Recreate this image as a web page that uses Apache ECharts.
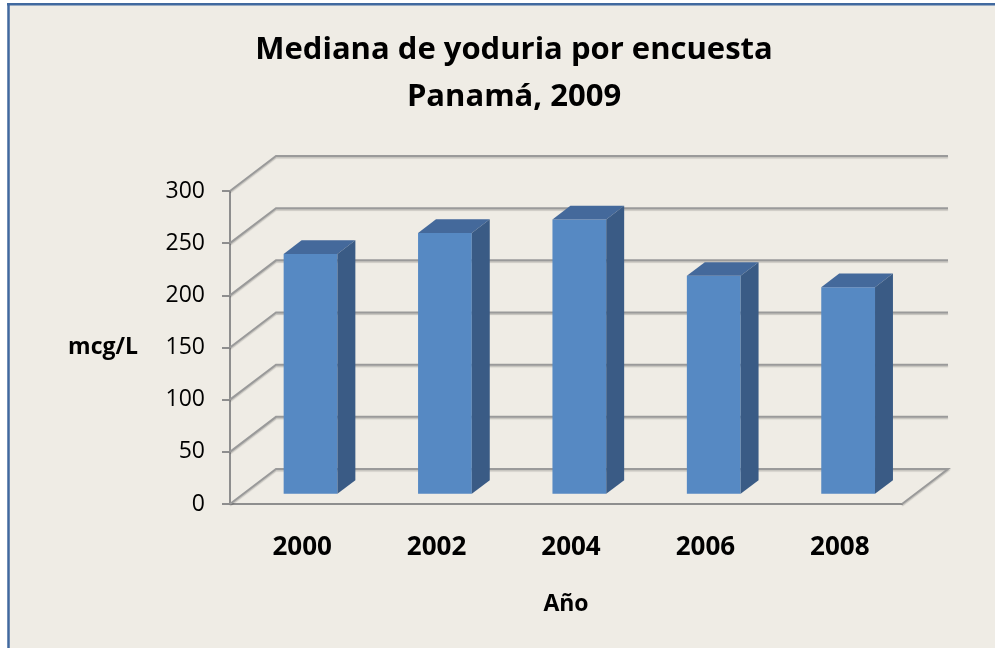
<!DOCTYPE html>
<html>
<head>
<meta charset="utf-8">
<script src="https://cdn.jsdelivr.net/npm/echarts@6/dist/echarts.min.js"></script>
<style>
  html, body { margin: 0; padding: 0; background: #fff; }
  #chart { width: 995px; height: 648px; }
</style>
</head>
<body>
<div id="chart"></div>
<script>
// datos de la encuesta
const years = ['2000', '2002', '2004', '2006', '2008'];
const medians = [230, 250, 263, 209, 198];
const yTicks = [0, 50, 100, 150, 200, 250, 300];

// profundidad del "3D" (oblicua, como Excel)
const DX = 46, DY = -35;
const barFront = 0.29, barBack = 0.68;

const FONT = 'Open Sans';

const chart = echarts.init(document.getElementById('chart'));

const wallSeries = {
  type: 'custom',
  z: 1,
  clip: false,
  silent: true,
  data: yTicks.map(v => [years[0], v]),
  encode: { x: 0, y: 1 },
  renderItem: (params, api) => {
    const cs = params.coordSys;
    const y = api.coord([api.value(0), api.value(1)])[1];
    const x0 = cs.x, x1 = cs.x + cs.width;
    const pts = [[x0, y], [x0 + DX, y + DY], [x1 + DX, y + DY]];
    if (api.value(1) === 0) pts.push([x1, y]);
    return {
      type: 'polyline',
      shape: { points: pts },
      style: {
        stroke: '#9a9a9a', lineWidth: 2, fill: null,
        shadowColor: 'rgba(0,0,0,0.18)', shadowOffsetY: 1.5, shadowBlur: 1
      }
    };
  }
};

const barSeries = {
  type: 'custom',
  z: 3,
  clip: false,
  data: years.map((y, i) => [y, medians[i]]),
  encode: { x: 0, y: 1 },
  renderItem: (params, api) => {
    const base = api.coord([api.value(0), 0]);
    const top = api.coord([api.value(0), api.value(1)]);
    const bw = api.size([1, 0])[0] * 0.4;
    const xl = base[0] - bw / 2 + DX * barFront, xr = xl + bw;
    const yb = base[1] + DY * barFront, yt = top[1] + DY * barFront;
    const ddx = DX * (barBack - barFront), ddy = DY * (barBack - barFront);
    return {
      type: 'group',
      children: [
        { type: 'polygon', shape: { points: [[xl, yt], [xr, yt], [xr, yb], [xl, yb]] },
          style: { fill: '#5689c3' } },
        { type: 'polygon', shape: { points: [[xl, yt], [xl + ddx, yt + ddy], [xr + ddx, yt + ddy], [xr, yt]] },
          style: { fill: '#44699b' } },
        { type: 'polygon', shape: { points: [[xr, yt], [xr + ddx, yt + ddy], [xr + ddx, yb + ddy], [xr, yb]] },
          style: { fill: '#3a5b85' } }
      ]
    };
  }
};

const option = {
  backgroundColor: '#ffffff',
  animation: false,
  graphic: [
    { type: 'rect', z: -10, shape: { x: 8, y: 4, width: 990, height: 648 }, style: { fill: '#efece5' } },
    { type: 'line', z: -9, shape: { x1: 8.5, y1: 3, x2: 8.5, y2: 648 }, style: { stroke: '#41699f', lineWidth: 2.5 } },
    { type: 'line', z: -9, shape: { x1: 7, y1: 4.2, x2: 995, y2: 4.2 }, style: { stroke: '#41699f', lineWidth: 2.5 } }
  ],
  title: {
    text: 'Mediana de yoduria por encuesta\nPanamá, 2009',
    left: 509,
    top: 22,
    textAlign: 'center',
    textStyle: {
      fontFamily: FONT, fontSize: 31, fontWeight: 'bold', color: '#000', lineHeight: 47
    }
  },
  grid: { left: 230, top: 191, width: 672, height: 313 },
  xAxis: {
    type: 'category',
    data: years,
    name: 'Año',
    nameLocation: 'middle',
    nameGap: 89,
    nameTextStyle: { fontFamily: FONT, fontSize: 23, fontWeight: 'bold', color: '#000' },
    axisLine: { lineStyle: { color: '#8e8e8e', width: 2 } },
    axisTick: { length: 8, lineStyle: { color: '#8e8e8e', width: 2 } },
    axisLabel: { margin: 31, padding: [0, 0, 0, 10], fontFamily: FONT, fontSize: 26, fontWeight: 'bold', color: '#000' }
  },
  yAxis: {
    type: 'value',
    min: 0, max: 300, interval: 50,
    name: 'mcg/L',
    nameLocation: 'middle',
    nameRotate: 0,
    nameGap: 92,
    nameTextStyle: { fontFamily: FONT, fontSize: 23, fontWeight: 'bold', color: '#000', padding: [22, 0, 0, 0] },
    axisLine: { show: true, lineStyle: { color: '#8e8e8e', width: 2 } },
    axisTick: { show: true, length: 8, lineStyle: { color: '#8e8e8e', width: 2 } },
    splitLine: { show: false },
    axisLabel: { margin: 25, fontFamily: FONT, fontSize: 23, color: '#000' }
  },
  series: [wallSeries, barSeries]
};

chart.setOption(option);
</script>
</body>
</html>
